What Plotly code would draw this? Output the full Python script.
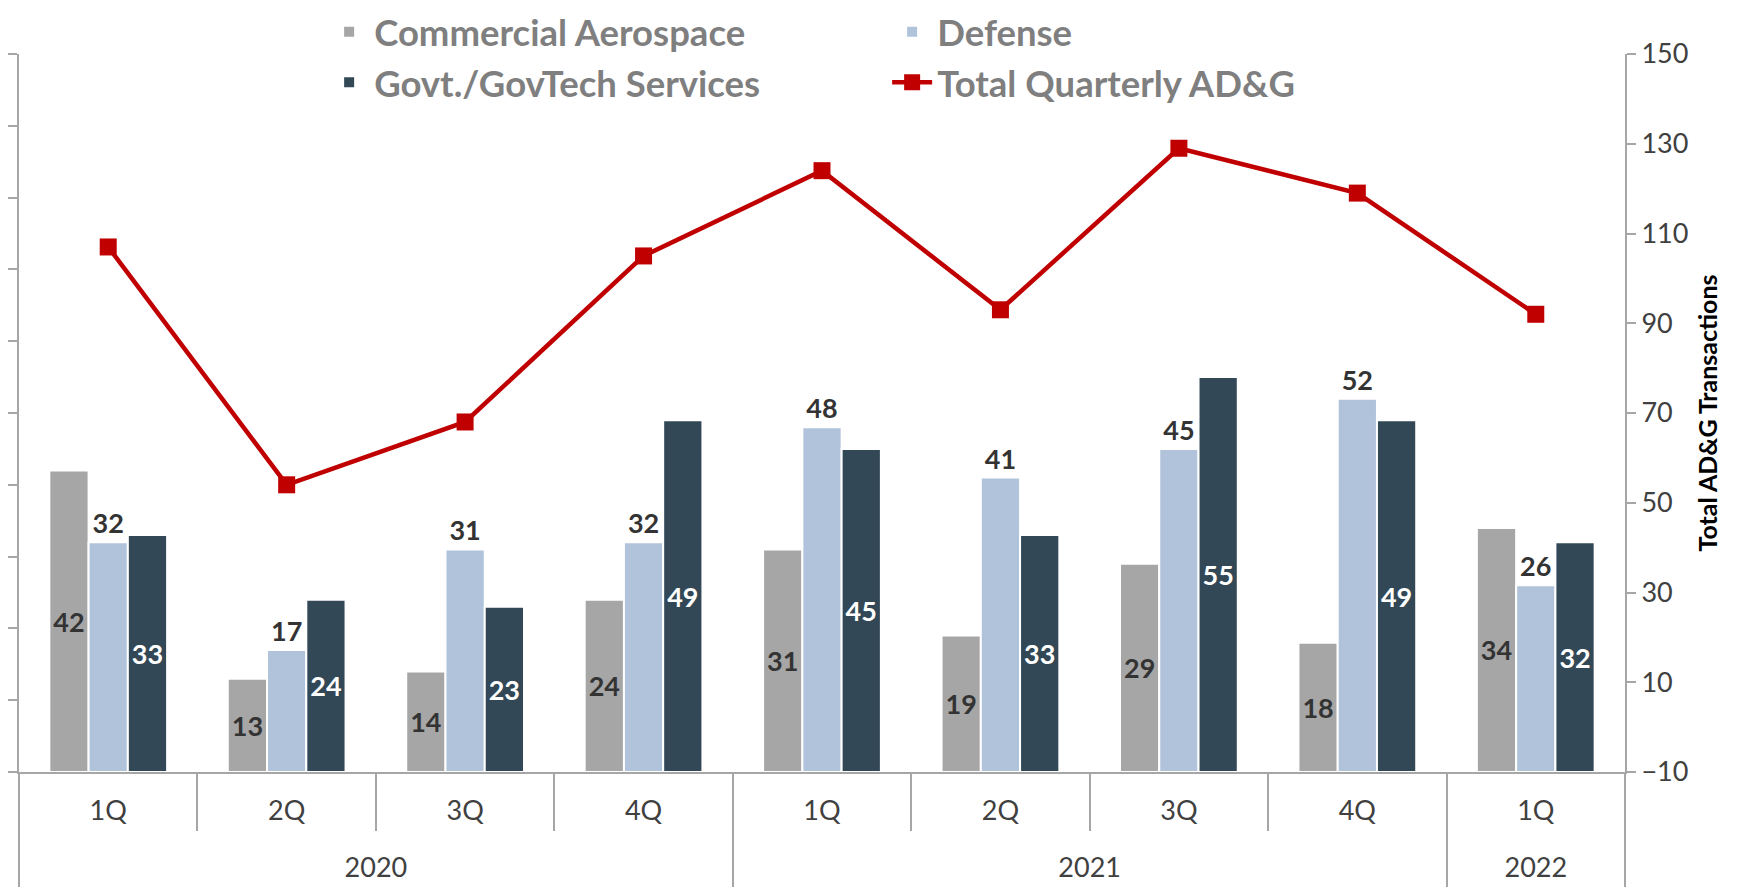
import plotly.graph_objects as go

years = ["2020", "2020", "2020", "2020", "2021", "2021", "2021", "2021", "2022"]
quarters = ["1Q", "2Q", "3Q", "4Q", "1Q", "2Q", "3Q", "4Q", "1Q"]
commercial = [42, 13, 14, 24, 31, 19, 29, 18, 34]
defense = [32, 17, 31, 32, 48, 41, 45, 52, 26]
govt = [33, 24, 23, 49, 45, 33, 55, 49, 32]
total = [107, 54, 68, 105, 124, 93, 129, 119, 92]

FONT = "Lato, 'Open Sans', sans-serif"
AXIS_GRAY = "#a6a6a6"
n = len(quarters)
cats = [f"{q} {y}" for q, y in zip(quarters, years)]

# axis helper positions derived from the category lists
quarter_bounds = [i + 0.5 for i in range(n - 1)]
year_names = []
year_first = {}
year_last = {}
for i, y in enumerate(years):
    if y not in year_first:
        year_names.append(y)
        year_first[y] = i
    year_last[y] = i
year_bounds = [year_first[y] - 0.5 for y in year_names] + [n - 0.5]
year_centers = [(year_first[y] + year_last[y]) / 2 for y in year_names]

fig = go.Figure()
fig.add_trace(go.Bar(
    x=cats, y=commercial, name="Commercial Aerospace",
    marker=dict(color="#a6a6a6", line=dict(color="white", width=2)),
    text=commercial, textposition="inside", insidetextanchor="middle",
    constraintext="none",
    textfont=dict(family=FONT, size=27, color="#333333", weight="bold"),
))
fig.add_trace(go.Bar(
    x=cats, y=defense, name="Defense",
    marker=dict(color="#b0c3da", line=dict(color="white", width=2)),
    text=defense, textposition="outside", constraintext="none",
    textfont=dict(family=FONT, size=27, color="#333333", weight="bold"),
))
fig.add_trace(go.Bar(
    x=cats, y=govt, name="Govt./GovTech Services",
    marker=dict(color="#334856", line=dict(color="white", width=2)),
    text=govt, textposition="inside", insidetextanchor="middle",
    constraintext="none",
    textfont=dict(family=FONT, size=27, color="white", weight="bold"),
))
fig.add_trace(go.Scatter(
    x=cats, y=total, name="Total Quarterly AD&G", yaxis="y2",
    mode="lines+markers",
    line=dict(color="#c00000", width=4.5),
    marker=dict(symbol="square", size=17, color="#c00000"),
))
# empty traces so the helper axes are drawn
for ax in ["x2", "x3", "x4"]:
    fig.add_trace(go.Scatter(x=[None], y=[None], xaxis=ax, yaxis="y",
                             showlegend=False, hoverinfo="skip"))

helper = dict(overlaying="x", anchor="y", side="bottom", range=[-0.5, n - 0.5],
              tickmode="array", showline=False, showgrid=False, zeroline=False,
              visible=True, fixedrange=True)

fig.update_layout(
    width=1738, height=879,
    paper_bgcolor="white", plot_bgcolor="white",
    margin=dict(l=11, r=121, t=46, b=115, autoexpand=False),
    barmode="group", bargap=0.34, bargroupgap=0,
    uniformtext=dict(mode="show", minsize=27),
    font=dict(family=FONT, color="#404040"),
    showlegend=True,
    legend=dict(
        orientation="h", x=0.19, xanchor="left", y=1.073, yanchor="top",
        entrywidth=508, entrywidthmode="pixels",
        font=dict(family=FONT, size=36.5, color="#7f7f7f", weight="bold"),
        bgcolor="rgba(0,0,0,0)", itemwidth=40, tracegroupgap=0,
    ),
    xaxis=dict(
        type="category", range=[-0.5, n - 0.5],
        tickmode="array", tickvals=cats, ticktext=quarters,
        showline=True, linecolor=AXIS_GRAY, linewidth=2,
        ticks="outside", ticklen=14, tickcolor="rgba(0,0,0,0)",
        tickfont=dict(family=FONT, size=27, color="#404040"),
        showgrid=False, zeroline=False,
    ),
    xaxis2=dict(helper, tickvals=quarter_bounds, showticklabels=False,
                ticks="outside", ticklen=58, tickcolor=AXIS_GRAY, tickwidth=2),
    xaxis3=dict(helper, tickvals=year_bounds, showticklabels=False,
                ticks="outside", ticklen=118, tickcolor=AXIS_GRAY, tickwidth=2),
    xaxis4=dict(helper, tickvals=year_centers, ticktext=year_names,
                ticks="outside", ticklen=72, tickcolor="rgba(0,0,0,0)",
                tickfont=dict(family=FONT, size=27, color="#404040")),
    yaxis=dict(
        range=[0, 100], dtick=10, showticklabels=False,
        ticks="outside", ticklen=10, tickcolor=AXIS_GRAY, tickwidth=2,
        showline=True, linecolor=AXIS_GRAY, linewidth=2,
        showgrid=False, zeroline=False,
    ),
    yaxis2=dict(
        overlaying="y", side="right", range=[-10, 150], tick0=-10, dtick=20,
        ticks="outside", ticklen=9, tickcolor=AXIS_GRAY, tickwidth=2,
        showline=True, linecolor=AXIS_GRAY, linewidth=2,
        showgrid=False, zeroline=False,
        tickfont=dict(family=FONT, size=27, color="#404040"),
        title=dict(text="Total AD&G Transactions", standoff=12,
                   font=dict(family=FONT, size=25, color="#000000", weight="bold")),
    ),
)

fig.write_html("out.html")
